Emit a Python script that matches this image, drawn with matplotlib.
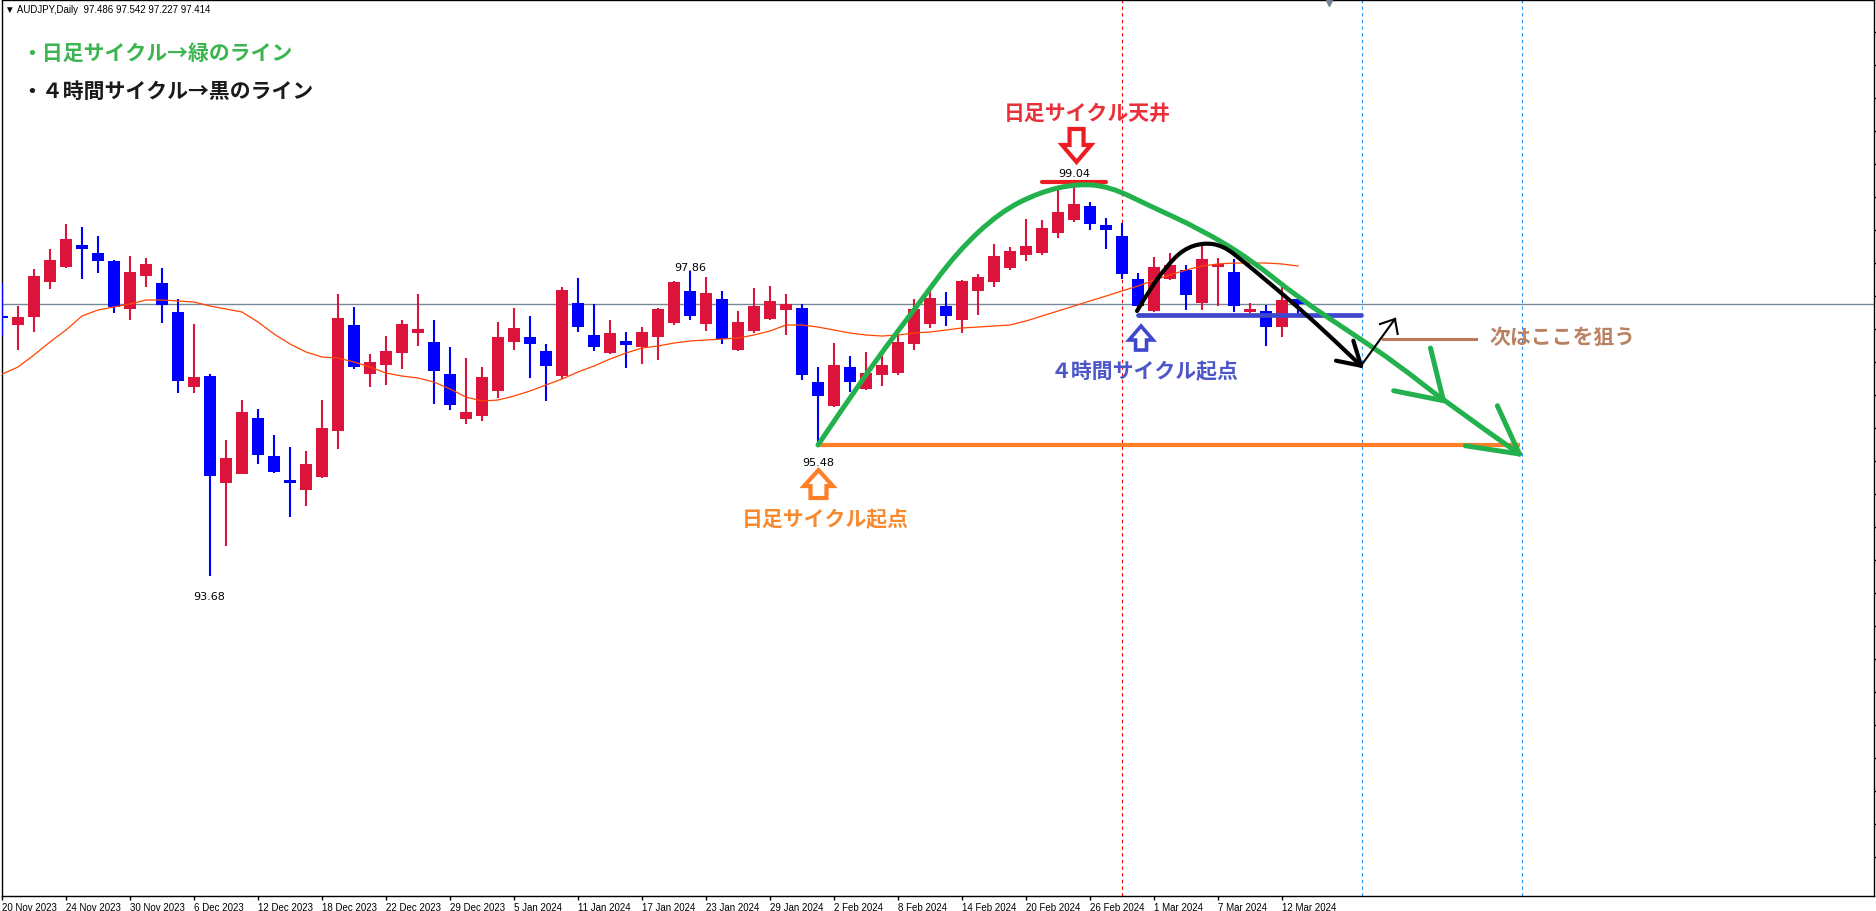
import numpy as np
import matplotlib
matplotlib.use("Agg")
import matplotlib.pyplot as plt
from matplotlib.patches import FancyArrowPatch, ArrowStyle, PathPatch
from matplotlib.path import Path

# --- daily candles AUDJPY, 20 Nov 2023 .. 14 Mar 2024 ---
date_labels = ["20 Nov 2023", "24 Nov 2023", "30 Nov 2023", "6 Dec 2023", "12 Dec 2023",
               "18 Dec 2023", "22 Dec 2023", "29 Dec 2023", "5 Jan 2024", "11 Jan 2024",
               "17 Jan 2024", "23 Jan 2024", "29 Jan 2024", "2 Feb 2024", "8 Feb 2024",
               "14 Feb 2024", "20 Feb 2024", "26 Feb 2024", "1 Mar 2024", "7 Mar 2024",
               "12 Mar 2024"]
label_bars = list(range(0, 81, 4))

opens = [97.247, 97.124, 97.233, 97.713, 97.918, 98.220, 98.110, 98.001, 97.343, 97.795,
         97.699, 97.302, 96.274, 96.425, 94.960, 95.083, 95.850, 95.329, 95.001, 94.864,
         95.042, 95.672, 97.124, 96.452, 96.576, 96.740, 97.014, 96.891, 96.452, 95.836,
         95.877, 96.220, 96.891, 96.960, 96.768, 96.425, 97.425, 96.987, 96.740, 96.905,
         96.822, 96.960, 97.151, 97.590, 97.137, 97.480, 96.781, 97.042, 97.206, 97.329,
         97.357, 96.343, 96.014, 96.548, 96.247, 96.439, 96.466, 96.864, 97.137, 97.384,
         97.192, 97.590, 97.713, 97.905, 98.083, 98.110, 98.384, 98.562, 98.754, 98.494,
         98.343, 97.754, 97.316, 97.754, 97.877, 97.425, 97.918, 97.850, 97.302, 97.316,
         97.096, 97.486]
highs = [97.699, 97.384, 97.891, 98.165, 98.507, 98.466, 98.343, 98.014, 98.069, 98.042,
         97.905, 97.480, 97.137, 96.452, 95.548, 96.096, 95.973, 95.617, 95.452, 95.398,
         96.096, 97.548, 97.370, 96.727, 96.973, 97.192, 97.548, 97.192, 96.822, 96.672,
         96.548, 97.165, 97.357, 97.247, 96.864, 97.644, 97.768, 97.412, 97.192, 97.028,
         97.096, 97.357, 97.727, 97.860, 97.781, 97.590, 97.316, 97.631, 97.658, 97.548,
         97.412, 96.548, 96.877, 96.699, 96.754, 96.727, 96.987, 97.480, 97.603, 97.576,
         97.740, 97.822, 98.233, 98.192, 98.576, 98.562, 98.987, 99.040, 98.809, 98.590,
         98.521, 97.836, 98.055, 98.110, 97.946, 98.206, 98.042, 98.028, 97.425, 97.398,
         97.658, 97.542]
lows = [96.973, 96.781, 97.028, 97.617, 97.905, 97.754, 97.836, 97.288, 97.192, 97.644,
        97.151, 96.192, 96.192, 93.680, 94.096, 95.083, 95.220, 95.096, 94.494, 94.644,
        95.028, 95.425, 96.521, 96.274, 96.302, 96.521, 96.836, 96.042, 95.960, 95.768,
        95.809, 96.124, 96.781, 96.398, 96.083, 96.384, 97.028, 96.768, 96.727, 96.535,
        96.590, 96.644, 97.124, 97.192, 97.042, 96.864, 96.768, 97.014, 97.192, 96.987,
        96.370, 95.480, 96.001, 96.206, 96.233, 96.288, 96.439, 96.781, 97.083, 97.110,
        97.014, 97.261, 97.644, 97.877, 98.001, 98.083, 98.316, 98.535, 98.425, 98.165,
        97.754, 97.343, 97.302, 97.740, 97.329, 97.329, 97.384, 97.302, 97.288, 96.836,
        96.960, 97.227]
closes = [97.220, 97.233, 97.795, 98.014, 98.302, 98.165, 98.001, 97.370, 97.850, 97.960,
          97.398, 96.357, 96.412, 95.055, 95.302, 95.932, 95.343, 95.110, 94.960, 95.220,
          95.713, 97.220, 96.548, 96.617, 96.768, 97.137, 97.069, 96.494, 96.028, 95.932,
          96.412, 96.960, 97.083, 96.864, 96.562, 97.603, 97.096, 96.822, 97.014, 96.850,
          97.028, 97.343, 97.713, 97.247, 97.562, 96.932, 97.165, 97.384, 97.453, 97.412,
          96.439, 96.151, 96.576, 96.343, 96.466, 96.576, 96.891, 97.343, 97.494, 97.247,
          97.727, 97.781, 98.069, 98.137, 98.206, 98.452, 98.672, 98.781, 98.507, 98.425,
          97.822, 97.384, 97.918, 97.946, 97.535, 98.028, 97.960, 97.384, 97.343, 97.096,
          97.466, 97.414]
# moving average (orange thin line)
ma = [96.452, 96.548, 96.713, 96.891, 97.055, 97.247, 97.329, 97.370, 97.412, 97.466,
      97.466, 97.453, 97.439, 97.384, 97.343, 97.302, 97.165, 97.001, 96.864, 96.754,
      96.686, 96.672, 96.617, 96.548, 96.466, 96.425, 96.398, 96.343, 96.247, 96.137,
      96.083, 96.096, 96.151, 96.220, 96.302, 96.384, 96.480, 96.562, 96.658, 96.740,
      96.809, 96.836, 96.877, 96.905, 96.918, 96.932, 96.946, 96.987, 97.042, 97.124,
      97.124, 97.096, 97.055, 97.014, 96.987, 96.973, 96.987, 97.014, 97.028, 97.055,
      97.083, 97.096, 97.110, 97.124, 97.179, 97.247, 97.316, 97.384, 97.453, 97.521,
      97.590, 97.658, 97.740, 97.809, 97.877, 97.932, 97.960, 97.973, 97.973, 97.973,
      97.960, 97.932]

# hand drawn objects (bar index, price)
green_x = [51.0, 54.06, 57.19, 59.69, 62.38, 64.88, 67.19, 69.25, 71.75, 74.88, 78.0,
           81.13, 84.25, 87.38, 90.09, 94.84]
green_y = [95.48, 96.48, 97.384, 98.124, 98.672, 98.946, 99.060, 99.020, 98.754, 98.439,
           98.028, 97.48, 97.028, 96.562, 96.087, 95.357]
green_heads = [((90.09, 96.087), (89.28, 96.809), (86.98, 96.224)),
               ((94.84, 95.357), (93.46, 96.018), (91.46, 95.47))]
black_x = [70.94, 71.75, 72.81, 73.81, 75.06, 76.31, 77.56, 79.06, 81.13, 83.19, 84.94]
black_y = [97.316, 97.617, 97.932, 98.157, 98.253, 98.212, 98.001, 97.727, 97.343, 96.932,
           96.566]
black_head = ((84.94, 96.566), (84.46, 96.909), (83.375, 96.635))
thin_arrow = ((84.94, 96.566), (87.06, 97.206))
thin_head = ((87.06, 97.206), (86.125, 97.137), (87.23, 97.001))

low_start, low_price, low_end = 51.0, 95.48, 94.88
high_bar, high_price = 67.0, 99.04
h4_start, h4_end, h4_price = 71.0, 84.94, 97.261
target_x0, target_x1, target_price = 86.31, 92.13, 96.932
day_sep = 70
future_lines = [85, 95]

W, H = 1876, 912
fig = plt.figure(figsize=(W / 100, H / 100), dpi=100)
ax = fig.add_axes([1.5 / W, 15 / H, 1872.5 / W, 896 / H])
ax.set_xlim(-0.03, 117.0)
ax.set_ylim(89.302, 101.576)

bars = np.arange(len(opens))
o = np.array(opens); c = np.array(closes)
col = np.where(c >= o, '#dc143c', '#0000ff')

ax.axhline(closes[-1], color='#778899', lw=1, zorder=1)
ax.axvline(day_sep, color='#ff0000', lw=0.8, ls=(0, (3, 3)), zorder=1)
for fx in future_lines:
    ax.axvline(fx, color='#1e90ff', lw=0.8, ls=(0, (3, 3)), zorder=1)

ax.vlines(bars, lows, highs, colors=col, lw=1.5, zorder=3)
ax.bar(bars, c - o, bottom=o, width=0.7, color=col, lw=0, zorder=4)
ax.plot(bars, ma, color='#ff4500', lw=0.9, zorder=5)

# price labels
small = dict(fontsize=8, family='DejaVu Sans', color='black', ha='center', va='center', zorder=6)
ax.text(12.94, 93.41, "93.68", **small)
ax.text(43.0, 97.918, "97.86", **small)
ax.text(51.0, 95.247, "95.48", **small)
ax.text(67.0, 99.206, "99.04", **small)

# drawn lines
ax.plot([low_start, low_end], [low_price, low_price], color='#ff7f27', lw=3, zorder=7,
        solid_capstyle='butt')
ax.plot([high_bar - 2, high_bar + 2], [high_price + 0.04, high_price + 0.04], color='#ed1c24',
        lw=3, zorder=7, solid_capstyle='round')
ax.plot([h4_start, h4_end], [h4_price, h4_price], color='#3f48cc', lw=3.4, zorder=7,
        solid_capstyle='round')
ax.plot([target_x0, target_x1], [target_price, target_price], color='#b97a57', lw=2.2, zorder=7)


def smooth_curve(xs, ys, color, lw, z):
    # quadratic bezier through the midpoints, the read points act as control points
    verts = [(xs[0], ys[0])]
    codes = [Path.MOVETO]
    for k in range(1, len(xs) - 1):
        mid = ((xs[k] + xs[k + 1]) / 2, (ys[k] + ys[k + 1]) / 2)
        if k == len(xs) - 2:
            mid = (xs[-1], ys[-1])
        verts += [(xs[k], ys[k]), mid]
        codes += [Path.CURVE3, Path.CURVE3]
    ax.add_patch(PathPatch(Path(verts, codes), fill=False, ec=color, lw=lw, zorder=z,
                           capstyle='round', joinstyle='round'))


smooth_curve(green_x, green_y, '#22b14c', 3.6, 8)
for tip, a1, a2 in green_heads:
    for a in (a1, a2):
        ax.plot([a[0], tip[0]], [a[1], tip[1]], color='#22b14c', lw=3.6, zorder=8,
                solid_capstyle='round')

smooth_curve(black_x, black_y, 'black', 3.0, 9)
tip, a1, a2 = black_head
for a in (a1, a2):
    ax.plot([a[0], tip[0]], [a[1], tip[1]], color='black', lw=3.0, zorder=9,
            solid_capstyle='round')
ax.plot([thin_arrow[0][0], thin_arrow[1][0]], [thin_arrow[0][1], thin_arrow[1][1]],
        color='black', lw=1.5, zorder=9)
tip, a1, a2 = thin_head
for a in (a1, a2):
    ax.plot([a[0], tip[0]], [a[1], tip[1]], color='black', lw=1.5, zorder=9)


def hollow_arrow(start, end, color, hl, hw, tw, lw):
    st = ArrowStyle.Simple(head_length=hl, head_width=hw, tail_width=tw)
    p = FancyArrowPatch(start, end, arrowstyle=st, mutation_scale=0.72, fc='white', ec=color,
                        lw=lw, shrinkA=0, shrinkB=0, joinstyle='miter', zorder=10)
    ax.add_patch(p)


hollow_arrow((67.16, 99.809), (67.16, 99.357), '#ed1c24', 17, 29, 14, 3.0)
hollow_arrow((51.03, 94.754), (51.03, 95.137), '#ff7f27', 16, 29, 16, 3.0)
hollow_arrow((71.19, 96.781), (71.19, 97.110), '#3f48cc', 14, 24, 11, 2.6)

jp = dict(family=['Noto Sans CJK JP', 'DejaVu Sans'], fontsize=15, fontweight='bold',
          va='center', zorder=11)
ax.text(67.84, 100.042, "日足サイクル天井", color='#e8313a', ha='center', **jp)
ax.text(51.48, 94.466, "日足サイクル起点", color='#f7892e', ha='center', **jp)
ax.text(71.44, 96.494, "４時間サイクル起点", color='#4c56c8', ha='center', **jp)
ax.text(92.94, 96.973, "次はここを狙う", color='#b98161', ha='left', **jp)

fig.text(21 / W, 1 - 53 / H, "・日足サイクル→緑のライン", color='#3cb551', ha='left', **jp)
fig.text(21 / W, 1 - 91 / H, "・４時間サイクル→黒のライン", color='#1a1a1a', ha='left', **jp)
fig.text(5 / W, 1 - 10 / H, "▼ AUDJPY,Daily  97.486 97.542 97.227 97.414",
         family=['Liberation Sans', 'DejaVu Sans'], fontsize=7, va='center', color='black')

ax.plot(82.94, 101.535, marker='v', ms=5, color='#708090', clip_on=False, zorder=12)

# axes look
for s in ax.spines.values():
    s.set_color('black')
    s.set_linewidth(1)
ax.set_xticks(label_bars)
ax.set_xticklabels(date_labels, fontsize=7, family='Liberation Sans')
for lbl in ax.get_xticklabels():
    lbl.set_ha('left')
ax.tick_params(axis='x', direction='out', length=3, width=1, pad=1)
ax.yaxis.set_ticks_position('right')
ax.set_yticks(np.arange(101.14, 89.4, -0.452))
ax.set_yticklabels([])
ax.tick_params(axis='y', direction='out', length=2, width=1)

fig.savefig('out.png', dpi=100)
